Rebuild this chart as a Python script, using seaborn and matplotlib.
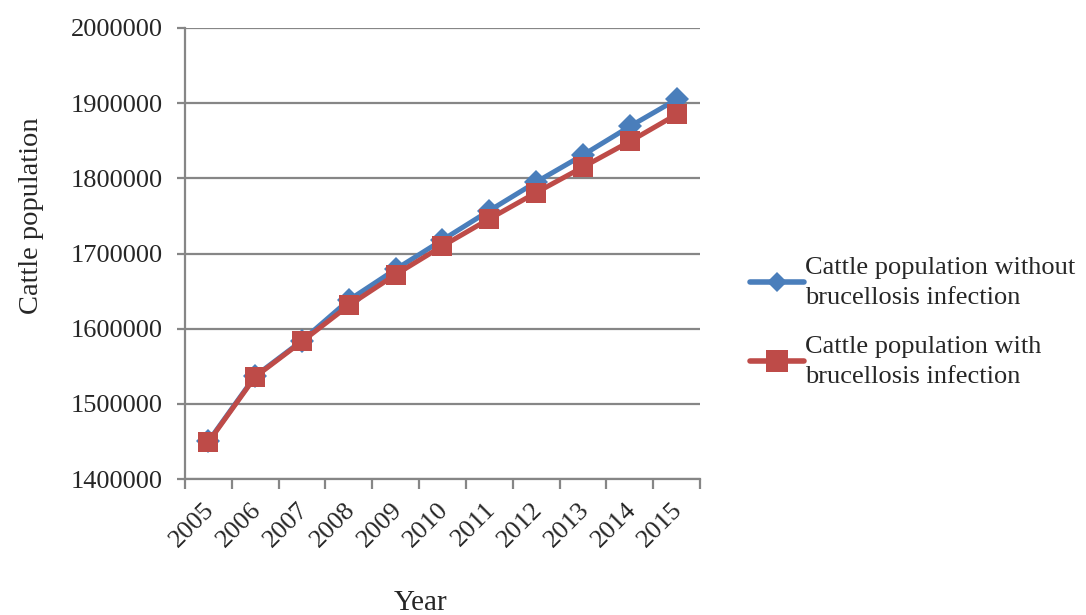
import numpy as np
import pandas as pd
import matplotlib
matplotlib.use("Agg")
import matplotlib.pyplot as plt
import matplotlib.transforms as mtransforms
import seaborn as sns
from matplotlib.ticker import FixedLocator

years = [2005, 2006, 2007, 2008, 2009, 2010, 2011, 2012, 2013, 2014, 2015]
without_infection = [1450000, 1537000, 1584000, 1638000, 1679000, 1718000,
                     1757000, 1795000, 1831000, 1869000, 1905000]
with_infection = [1449000, 1536000, 1583000, 1631000, 1672000, 1710000,
                  1746000, 1781000, 1815000, 1849000, 1885000]
label_without = "Cattle population without\nbrucellosis infection"
label_with = "Cattle population with\nbrucellosis infection"

df = pd.DataFrame({
    "pos": list(range(len(years))) * 2,
    "value": without_infection + with_infection,
    "series": [label_without] * len(years) + [label_with] * len(years),
})

sns.set_style("white")
plt.rcParams["font.family"] = ["Liberation Serif", "DejaVu Serif"]

grey = "#868686"
fig = plt.figure(figsize=(10.86, 6.15), dpi=100)
ax = fig.add_axes([0.1703, 0.2211, 0.4743, 0.7334])

sns.lineplot(data=df, x="pos", y="value", hue="series", style="series",
             palette={label_without: "#4A7EBB", label_with: "#BE4B48"},
             markers={label_without: "D", label_with: "s"},
             dashes=False, linewidth=3.6, markeredgewidth=0,
             ax=ax, legend=True)
# marker sizes per series
ax.lines[0].set_markersize(12)
ax.lines[1].set_markersize(14)

ax.set_xlim(-0.5, len(years) - 0.5)
ax.set_ylim(1400000, 2000000)
ax.set_yticks(np.arange(1400000, 2000001, 100000))
ax.set_yticklabels([str(v) for v in range(1400000, 2000001, 100000)], fontsize=19)
ax.yaxis.grid(True, color=grey, linewidth=1.6)
ax.set_axisbelow(True)

ax.xaxis.set_major_locator(FixedLocator(np.arange(-0.5, len(years), 1.0)))
ax.set_xticklabels([])
ax.xaxis.set_minor_locator(FixedLocator(range(len(years))))
ax.set_xticklabels([str(y) for y in years], minor=True, fontsize=19,
                   rotation=45, ha="right", rotation_mode="anchor")
ax.tick_params(axis="x", which="major", length=7, width=1.6, color=grey, direction="out", bottom=True)
ax.tick_params(axis="x", which="minor", length=0, pad=14)
ax.tick_params(axis="y", length=6, width=1.6, color=grey, direction="out", left=True, pad=10)
# Excel-style placement: nudge the rotated year labels a little
shift = mtransforms.ScaledTranslation(-5 / 100, 0, fig.dpi_scale_trans)
for tick in ax.xaxis.get_minor_ticks():
    tick.label1.set_transform(tick.label1.get_transform() + shift)

for s in ["top", "right"]:
    ax.spines[s].set_visible(False)
for s in ["left", "bottom"]:
    ax.spines[s].set_color(grey)
    ax.spines[s].set_linewidth(1.6)

ax.set_xlabel("Year", fontsize=21)
ax.xaxis.set_label_coords(0.458, -0.245)
ax.set_ylabel("Cattle population", fontsize=20.5)
ax.yaxis.set_label_coords(-0.297, 0.583)
ax.yaxis.label.set_va("center")

handles, labels = ax.get_legend_handles_labels()
leg = ax.legend(handles, labels, loc="center left", bbox_to_anchor=(1.05, 0.347),
                frameon=False, fontsize=19, handlelength=2.05, handletextpad=0.05,
                labelspacing=1.0)
for h, ms in zip(leg.legend_handles, [10, 16]):
    h.set_linewidth(4)
    h.set_markersize(ms)
for t in leg.get_texts():
    t.set_linespacing(1.5)

fig.savefig("out.png", dpi=100)
